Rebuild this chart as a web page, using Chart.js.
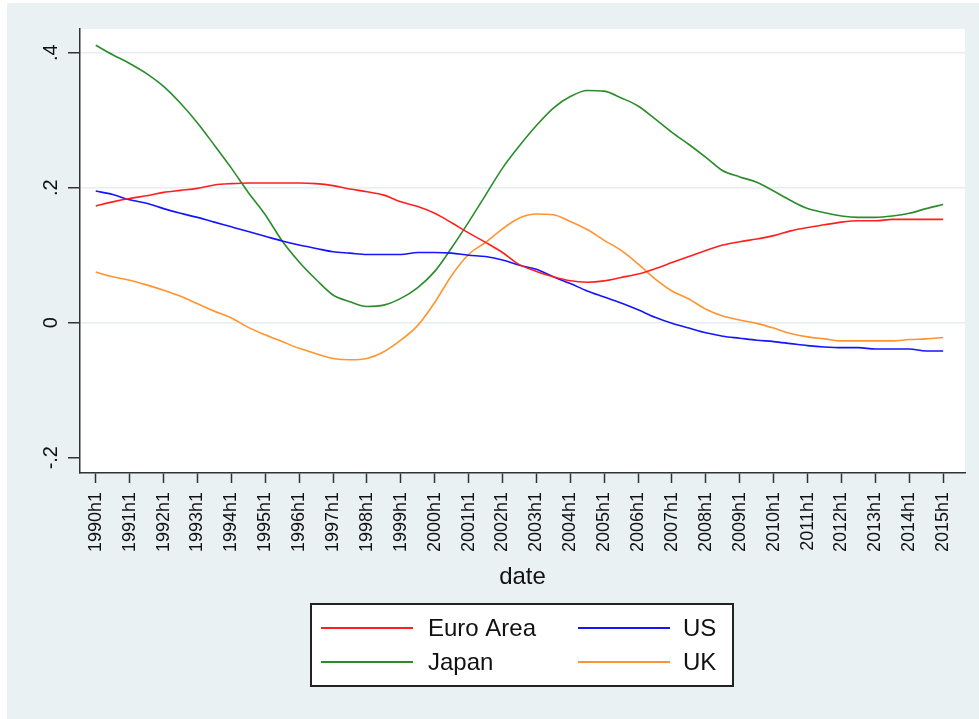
<!DOCTYPE html>
<html lang="en">
<head>
    <meta charset="UTF-8">
    <title>date</title>
    <script src="https://cdn.jsdelivr.net/npm/chart.js"></script>
    <style>
        body {
            margin: 0;
            background: #ffffff;
        }

        .frame {
            position: absolute;
            left: 7px;
            top: 3px;
            width: 972px;
            height: 716px;
            background-color: #e9f1f3;
        }
    </style>
</head>
<body>

<div class="frame">
    <canvas id="chart" width="972" height="716"></canvas>
</div>

<script>
    // half-year periods
    const periods = [
        '1990h1', '1990h2', '1991h1', '1991h2', '1992h1', '1992h2', '1993h1', '1993h2', '1994h1', '1994h2',
        '1995h1', '1995h2', '1996h1', '1996h2', '1997h1', '1997h2', '1998h1', '1998h2', '1999h1', '1999h2',
        '2000h1', '2000h2', '2001h1', '2001h2', '2002h1', '2002h2', '2003h1', '2003h2', '2004h1', '2004h2',
        '2005h1', '2005h2', '2006h1', '2006h2', '2007h1', '2007h2', '2008h1', '2008h2', '2009h1', '2009h2',
        '2010h1', '2010h2', '2011h1', '2011h2', '2012h1', '2012h2', '2013h1', '2013h2', '2014h1', '2014h2',
        '2015h1'
    ];

    const euroArea = [
        0.173, 0.179, 0.184, 0.188, 0.193, 0.196, 0.199, 0.204, 0.206, 0.207,
        0.207, 0.207, 0.207, 0.206, 0.203, 0.198, 0.194, 0.189, 0.179, 0.172,
        0.162, 0.148, 0.133, 0.119, 0.104, 0.086, 0.076, 0.068, 0.062, 0.060,
        0.062, 0.067, 0.072, 0.080, 0.089, 0.098, 0.107, 0.115, 0.120, 0.124,
        0.129, 0.136, 0.141, 0.145, 0.149, 0.151, 0.151, 0.153, 0.153, 0.153,
        0.153
    ];

    const us = [
        0.195, 0.190, 0.182, 0.177, 0.169, 0.162, 0.156, 0.149, 0.142, 0.135,
        0.128, 0.121, 0.115, 0.110, 0.105, 0.103, 0.101, 0.101, 0.101, 0.104,
        0.104, 0.103, 0.100, 0.098, 0.093, 0.085, 0.079, 0.068, 0.058, 0.047,
        0.038, 0.029, 0.019, 0.008, -0.001, -0.008, -0.015, -0.020, -0.023, -0.026,
        -0.028, -0.031, -0.034, -0.036, -0.037, -0.037, -0.039, -0.039, -0.039, -0.042,
        -0.042
    ];

    const japan = [
        0.411, 0.397, 0.384, 0.369, 0.350, 0.325, 0.296, 0.263, 0.229, 0.193,
        0.160, 0.121, 0.090, 0.064, 0.041, 0.031, 0.024, 0.026, 0.036, 0.052,
        0.076, 0.111, 0.149, 0.189, 0.229, 0.262, 0.292, 0.318, 0.335, 0.344,
        0.343, 0.333, 0.321, 0.302, 0.282, 0.264, 0.245, 0.225, 0.216, 0.208,
        0.195, 0.181, 0.169, 0.163, 0.158, 0.156, 0.156, 0.158, 0.162, 0.169,
        0.175
    ];

    const uk = [
        0.075, 0.068, 0.063, 0.056, 0.048, 0.039, 0.028, 0.017, 0.007, -0.007,
        -0.018, -0.028, -0.038, -0.046, -0.053, -0.055, -0.053, -0.043, -0.026, -0.004,
        0.030, 0.070, 0.101, 0.119, 0.139, 0.155, 0.161, 0.160, 0.150, 0.138,
        0.122, 0.107, 0.087, 0.065, 0.047, 0.035, 0.020, 0.010, 0.004, -0.001,
        -0.008, -0.016, -0.021, -0.024, -0.027, -0.027, -0.027, -0.027, -0.025, -0.024,
        -0.022
    ];

    const yTicks = [-0.2, 0, 0.2, 0.4];
    const yTickLabels = ['-.2', '0', '.2', '.4'];

    const toPoints = values => values.map((v, i) => ({x: i, y: v}));

    // white plot region
    const plotBackground = {
        id: 'plotBackground',
        beforeDraw(chart) {
            const {ctx, chartArea: a} = chart;
            ctx.save();
            ctx.fillStyle = '#ffffff';
            ctx.fillRect(a.left, a.top, a.right - a.left, a.bottom - a.top);
            ctx.restore();
        }
    };

    // rotated y labels, like stata
    const yLabels = {
        id: 'yLabels',
        afterDraw(chart) {
            const {ctx} = chart;
            const ys = chart.scales.y;
            ctx.save();
            ctx.font = '20px "Liberation Sans", Arial, sans-serif';
            ctx.fillStyle = '#111';
            ctx.textAlign = 'center';
            ctx.textBaseline = 'alphabetic';
            yTicks.forEach((v, k) => {
                ctx.save();
                ctx.translate(50, ys.getPixelForValue(v));
                ctx.rotate(-Math.PI / 2);
                ctx.fillText(yTickLabels[k], 0, 0);
                ctx.restore();
            });
            ctx.restore();
        }
    };

    // boxed legend, two columns
    const boxLegend = {
        id: 'boxLegend',
        afterDraw(chart) {
            const {ctx} = chart;
            const box = {x: 304, y: 601, w: 422, h: 82};
            const cols = [{line: 314, text: 421}, {line: 571, text: 676}];
            const rows = [625, 659];
            ctx.save();
            ctx.fillStyle = '#ffffff';
            ctx.fillRect(box.x, box.y, box.w, box.h);
            ctx.strokeStyle = '#222';
            ctx.lineWidth = 2;
            ctx.strokeRect(box.x, box.y, box.w, box.h);
            ctx.font = '24px "Liberation Sans", Arial, sans-serif';
            ctx.textBaseline = 'middle';
            ctx.textAlign = 'left';
            chart.data.datasets.forEach((ds, i) => {
                const c = cols[i % 2];
                const y = rows[Math.floor(i / 2)];
                ctx.strokeStyle = ds.borderColor;
                ctx.lineWidth = 2;
                ctx.beginPath();
                ctx.moveTo(c.line, y);
                ctx.lineTo(c.line + 92, y);
                ctx.stroke();
                ctx.fillStyle = '#111';
                ctx.fillText(ds.label, c.text, y + 1);
            });
            ctx.restore();
        }
    };

    new Chart(document.getElementById('chart'), {
        type: 'line',
        data: {
            datasets: [
                {label: 'Euro Area', data: toPoints(euroArea), borderColor: '#ff1f1f'},
                {label: 'US', data: toPoints(us), borderColor: '#1414ff'},
                {label: 'Japan', data: toPoints(japan), borderColor: '#2a8c2a'},
                {label: 'UK', data: toPoints(uk), borderColor: '#ff9430'}
            ]
        },
        options: {
            responsive: false,
            animation: false,
            events: [],
            layout: {
                padding: {top: 26, right: 14, left: 0, bottom: 0}
            },
            elements: {
                point: {radius: 0},
                line: {borderWidth: 1.6, cubicInterpolationMode: 'monotone', fill: false}
            },
            plugins: {
                legend: {display: false},
                tooltip: {enabled: false}
            },
            scales: {
                x: {
                    type: 'linear',
                    min: -0.93,
                    max: 51.29,
                    afterBuildTicks: scale => {
                        scale.ticks = periods.map((p, i) => ({value: i})).filter(t => t.value % 2 === 0);
                    },
                    afterFit: scale => {
                        scale.height = 246;
                    },
                    ticks: {
                        autoSkip: false,
                        minRotation: 90,
                        maxRotation: 90,
                        padding: 9,
                        color: '#111',
                        font: {family: '"Liberation Sans", Arial, sans-serif', size: 18},
                        callback: value => periods[value]
                    },
                    grid: {
                        drawOnChartArea: false,
                        tickLength: 10,
                        tickColor: '#333',
                        tickWidth: 1.5
                    },
                    border: {color: '#333', width: 1.5},
                    title: {
                        display: true,
                        text: 'date',
                        color: '#111',
                        font: {family: '"Liberation Sans", Arial, sans-serif', size: 24},
                        padding: {top: 0, bottom: 127}
                    }
                },
                y: {
                    min: -0.2227,
                    max: 0.4351,
                    afterBuildTicks: scale => {
                        scale.ticks = yTicks.map(v => ({value: v}));
                    },
                    afterFit: scale => {
                        scale.width = 73;
                    },
                    ticks: {display: false},
                    grid: {
                        color: c => (c.tick && c.tick.value < -0.1) ? 'rgba(0,0,0,0)' : '#e6eef0',
                        lineWidth: 1.5,
                        tickLength: 12,
                        tickColor: '#333',
                        tickWidth: 1.5
                    },
                    border: {color: '#333', width: 1.5}
                }
            }
        },
        plugins: [plotBackground, yLabels, boxLegend]
    });
</script>

</body>
</html>
